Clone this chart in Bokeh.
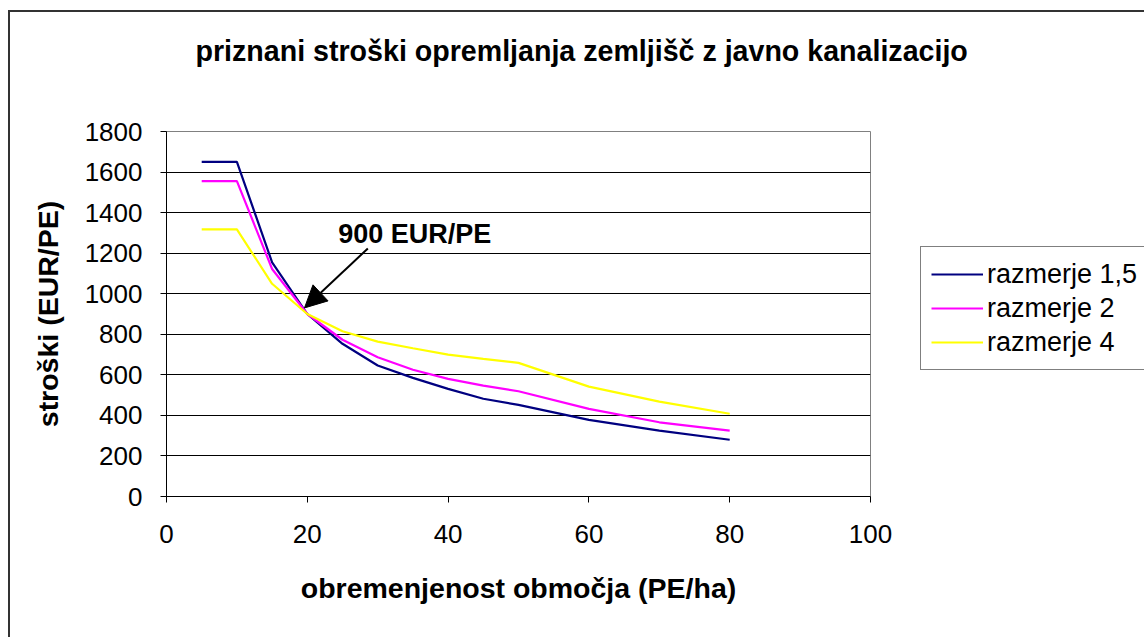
from bokeh.plotting import figure
from bokeh.models import (Range1d, FixedTicker, Legend, LegendItem, Arrow, NormalHead, Title)
from bokeh.core.properties import value
from bokeh.embed import file_html
from bokeh.resources import INLINE

# ---- data ----
x_vals = [5, 10, 15, 20, 25, 30, 35, 40, 45, 50, 60, 70, 80]
razmerje_1_5 = [1650, 1650, 1155, 900, 753, 646, 585, 531, 482, 452, 378, 325, 280]
razmerje_2 = [1555, 1555, 1122, 900, 773, 687, 625, 580, 547, 519, 432, 366, 325]
razmerje_4 = [1317, 1317, 1049, 900, 815, 764, 731, 700, 679, 659, 542, 468, 408]
series_names = ["razmerje 1,5", "razmerje 2", "razmerje 4"]
series_colors = ["#000080", "#FF00FF", "#FFFF00"]
x_ticks = [0, 20, 40, 60, 80, 100]
y_ticks = [0, 200, 400, 600, 800, 1000, 1200, 1400, 1600, 1800]

title_text = "priznani stroški opremljanja zemljišč z javno kanalizacijo"
x_label = "obremenjenost območja (PE/ha)"
y_label = "stroški (EUR/PE)"
note_text = "900 EUR/PE"
note_pos = (24.4, 1295)
arrow_tail = (28.6, 1223)
arrow_tip = (19.6, 930)

FONT = "Liberation Sans"

p = figure(frame_width=704, frame_height=365, output_backend="svg", toolbar_location=None,
           x_range=Range1d(0, 100), y_range=Range1d(0, 1800),
           min_border_left=156, min_border_right=274, min_border_top=119, min_border_bottom=141)
p.styles = {"border-left": "2px solid #333333", "border-top": "2px solid #333333",
            "margin-left": "8px", "margin-top": "10px"}
p.background_fill_color = "white"
p.border_fill_color = "white"
p.outline_line_color = "#808080"
p.outline_line_width = 1

# spacer between frame and title, then the title itself (stacked outward)
spacer = Title(text=" ", text_font_size="10px", standoff=45, text_color="white")
p.add_layout(spacer, "above")
t = Title(text=title_text, align="left", offset=29, standoff=10, vertical_align="top",
          text_font=FONT, text_font_size="28.6px", text_font_style="bold", text_color="black")
p.add_layout(t, "above")

# axes
p.xaxis.ticker = FixedTicker(ticks=x_ticks)
p.yaxis.ticker = FixedTicker(ticks=y_ticks)
for ax in (p.xaxis[0], p.yaxis[0]):
    ax.axis_line_color = "black"
    ax.major_tick_line_color = "black"
    ax.major_tick_in = 0
    ax.major_tick_out = 6
    ax.minor_tick_line_color = None
    ax.major_label_text_font = FONT
    ax.major_label_text_font_size = "26px"
    ax.major_label_text_color = "black"
    ax.axis_label_text_font = FONT
    ax.axis_label_text_font_size = "28.5px"
    ax.axis_label_text_font_style = "bold"
    ax.axis_label_text_color = "black"
p.xaxis.axis_label = x_label
p.yaxis.axis_label = y_label
p.yaxis.major_label_standoff = 18
p.xaxis.major_label_standoff = 22
p.yaxis.axis_label_standoff = 18
p.xaxis.axis_label_standoff = 26

p.xgrid.grid_line_color = None
p.ygrid.grid_line_color = "black"
p.ygrid.grid_line_width = 1

# lines
renderers = []
for ys, c in zip([razmerje_1_5, razmerje_2, razmerje_4], series_colors):
    r = p.line(x_vals, ys, line_color=c, line_width=2.2)
    renderers.append(r)

# annotation
p.text(x=[note_pos[0]], y=[note_pos[1]], text=[note_text], text_font=value(FONT),
       text_font_size="27px", text_font_style="bold", text_color="black",
       text_baseline="middle", text_align="left")
p.add_layout(Arrow(end=NormalHead(size=22, fill_color="black", line_color="black"),
                   x_start=arrow_tail[0], y_start=arrow_tail[1],
                   x_end=arrow_tip[0], y_end=arrow_tip[1],
                   line_color="black", line_width=2))

legend = Legend(items=[LegendItem(label=n, renderers=[r]) for n, r in zip(series_names, renderers)],
                location=(50, 126))
legend.label_text_font = FONT
legend.label_text_font_size = "27px"
legend.label_text_color = "black"
legend.border_line_color = "black"
legend.border_line_width = 1
legend.background_fill_color = "white"
legend.background_fill_alpha = 1
legend.glyph_width = 52
legend.glyph_height = 34
legend.label_height = 34
legend.label_standoff = 4
legend.spacing = 0
legend.padding = 10
legend.margin = 0
p.add_layout(legend, "right")

open("out.html", "w").write(file_html(p, INLINE))
